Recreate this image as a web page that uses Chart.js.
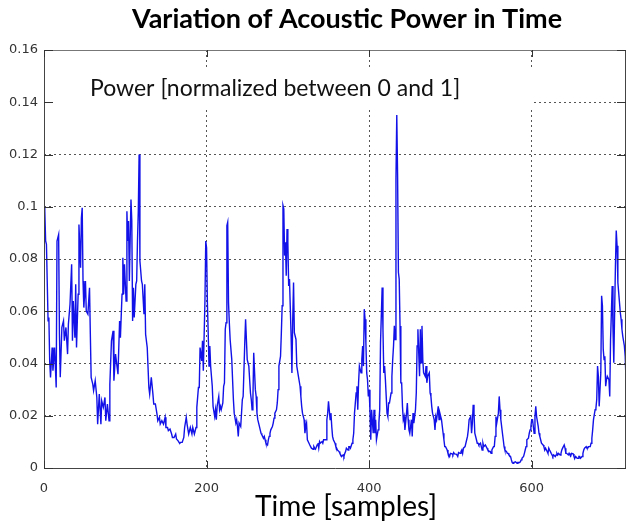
<!DOCTYPE html>
<html>
<head>
<meta charset="utf-8">
<script src="https://cdn.jsdelivr.net/npm/chart.js@4.4.1/dist/chart.umd.min.js"></script>
<style>
  html, body { margin: 0; padding: 0; background: #fff; }
  #wrap { width: 626px; height: 526px; }
</style>
</head>
<body>
<div id="wrap"><canvas id="chart" width="626" height="526"></canvas></div>
<script>
const chartTitle = "Variation of Acoustic Power in Time";
const xLabel = "Time [samples]";
const note = "Power [normalized between 0 and 1]";

const xTicks = [0, 200, 400, 600];
const yTicks = [0, 0.02, 0.04, 0.06, 0.08, 0.1, 0.12, 0.14, 0.16];

// sample index (x) and normalized power (y)
const samples = [
  0, 1, 2, 3, 5, 6, 7, 8, 10, 11, 13, 15, 16, 18, 19, 20, 22, 24, 25, 27,
  29, 30, 32, 34, 35, 36, 38, 39, 40, 42, 43, 45, 46, 47, 48, 49, 51, 52, 54, 56,
  57, 58, 60, 61, 63, 65, 66, 68, 70, 71, 73, 75, 76, 78, 80, 81, 83, 85, 86, 88,
  89, 91, 93, 94, 96, 97, 98, 99, 101, 102, 103, 104, 105, 107, 108, 109, 110, 111, 113, 114,
  115, 116, 117, 118, 120, 121, 123, 124, 125, 127, 129, 130, 132, 134, 135, 137, 139, 140, 142, 143,
  145, 147, 149, 150, 152, 153, 155, 157, 158, 160, 162, 163, 165, 167, 168, 170, 172, 173, 175, 176,
  178, 180, 182, 183, 185, 187, 188, 190, 191, 192, 194, 195, 196, 198, 199, 200, 201, 202, 203, 204,
  205, 206, 207, 208, 210, 211, 212, 213, 215, 216, 217, 218, 220, 221, 222, 223, 224, 225, 226, 227,
  228, 229, 231, 232, 233, 234, 236, 237, 238, 239, 240, 242, 243, 244, 245, 247, 248, 249, 250, 252,
  253, 254, 255, 256, 257, 258, 260, 261, 262, 263, 265, 266, 267, 268, 270, 271, 272, 273, 275, 276,
  277, 278, 279, 281, 282, 283, 284, 286, 287, 288, 289, 291, 292, 293, 294, 295, 296, 297, 298, 299,
  300, 301, 302, 304, 305, 306, 307, 308, 310, 311, 313, 315, 316, 317, 318, 320, 321, 322, 323, 324,
  326, 327, 328, 329, 331, 332, 333, 334, 336, 337, 338, 339, 340, 342, 343, 344, 345, 347, 348, 349,
  350, 352, 353, 354, 355, 356, 358, 359, 360, 361, 363, 364, 365, 366, 368, 369, 370, 371, 372, 374,
  375, 376, 377, 379, 380, 381, 382, 384, 385, 386, 387, 388, 390, 391, 392, 393, 394, 395, 396, 397,
  398, 399, 400, 401, 402, 403, 405, 406, 407, 408, 409, 411, 412, 413, 414, 416, 417, 418, 419, 420,
  422, 423, 424, 425, 427, 428, 429, 430, 431, 432, 433, 434, 435, 436, 437, 438, 439, 440, 441, 442,
  443, 444, 446, 447, 448, 449, 450, 452, 453, 454, 455, 457, 458, 459, 460, 462, 463, 464, 465, 466,
  467, 469, 470, 471, 472, 474, 475, 476, 477, 478, 480, 481, 482, 483, 485, 486, 487, 488, 489, 491,
  492, 493, 494, 496, 497, 498, 499, 500, 502, 503, 504, 505, 507, 508, 509, 510, 512, 513, 514, 515,
  516, 518, 519, 520, 521, 522, 523, 525, 526, 527, 528, 529, 530, 532, 533, 534, 535, 537, 538, 539,
  540, 541, 543, 544, 545, 546, 548, 549, 550, 551, 553, 554, 555, 556, 557, 559, 560, 561, 562, 564,
  565, 566, 567, 569, 570, 571, 572, 574, 575, 576, 577, 578, 580, 581, 582, 583, 585, 586, 587, 588,
  590, 591, 592, 593, 594, 596, 597, 598, 599, 600, 601, 603, 604, 605, 606, 608, 609, 610, 611, 612,
  614, 615, 616, 617, 619, 620, 621, 622, 624, 625, 626, 627, 629, 630, 631, 632, 633, 635, 636, 637,
  638, 640, 641, 642, 643, 645, 646, 647, 648, 649, 651, 652, 653, 654, 656, 657, 658, 659, 660, 662,
  663, 664, 665, 667, 668, 669, 670, 672, 673, 674, 675, 676, 678, 679, 680, 681, 682, 683, 685, 686,
  687, 688, 689, 690, 691, 692, 693, 695, 696, 697, 699, 700, 701, 702, 703, 704, 705, 706, 708, 709,
  710, 711, 712, 714, 715, 716
];

const power = [
  0.1000, 0.0983, 0.0869, 0.0856, 0.0563, 0.0576, 0.0410, 0.0347, 0.0461, 0.0372, 0.0461, 0.0308, 0.0869, 0.0894, 0.0512, 0.0347, 0.0538, 0.0563, 0.0487, 0.0538,
  0.0436, 0.0550, 0.0627, 0.0780, 0.0487, 0.0639, 0.0499, 0.0703, 0.0461, 0.0665, 0.0932, 0.0767, 0.0958, 0.0996, 0.0716, 0.0614, 0.0716, 0.0601, 0.0589, 0.0690,
  0.0512, 0.0347, 0.0321, 0.0296, 0.0334, 0.0270, 0.0168, 0.0283, 0.0168, 0.0257, 0.0232, 0.0270, 0.0181, 0.0245, 0.0181, 0.0321, 0.0487, 0.0525, 0.0334, 0.0436,
  0.0410, 0.0359, 0.0563, 0.0499, 0.0665, 0.0805, 0.0665, 0.0780, 0.0639, 0.0983, 0.0869, 0.0945, 0.0716, 0.1028, 0.0945, 0.0563, 0.0690, 0.0576, 0.0703, 0.0716,
  0.0869, 0.0983, 0.1200, 0.0792, 0.0716, 0.0703, 0.0589, 0.0703, 0.0512, 0.0461, 0.0308, 0.0283, 0.0347, 0.0283, 0.0245, 0.0245, 0.0206, 0.0181, 0.0194, 0.0168,
  0.0181, 0.0168, 0.0194, 0.0155, 0.0155, 0.0143, 0.0149, 0.0130, 0.0117, 0.0117, 0.0130, 0.0111, 0.0104, 0.0094, 0.0098, 0.0098, 0.0117, 0.0155, 0.0194, 0.0168,
  0.0130, 0.0155, 0.0130, 0.0155, 0.0130, 0.0155, 0.0232, 0.0308, 0.0308, 0.0461, 0.0410, 0.0487, 0.0372, 0.0639, 0.0869, 0.0843, 0.0633, 0.0518, 0.0390, 0.0467,
  0.0390, 0.0351, 0.0313, 0.0236, 0.0197, 0.0223, 0.0185, 0.0236, 0.0274, 0.0223, 0.0236, 0.0223, 0.0249, 0.0313, 0.0326, 0.0531, 0.0556, 0.0928, 0.0941, 0.0633,
  0.0556, 0.0492, 0.0415, 0.0338, 0.0262, 0.0210, 0.0172, 0.0185, 0.0159, 0.0121, 0.0172, 0.0159, 0.0210, 0.0262, 0.0274, 0.0479, 0.0569, 0.0492, 0.0415, 0.0390,
  0.0338, 0.0287, 0.0262, 0.0223, 0.0262, 0.0441, 0.0300, 0.0274, 0.0210, 0.0185, 0.0159, 0.0146, 0.0133, 0.0127, 0.0114, 0.0121, 0.0108, 0.0095, 0.0088, 0.0108,
  0.0121, 0.0133, 0.0146, 0.0159, 0.0172, 0.0191, 0.0210, 0.0223, 0.0249, 0.0300, 0.0390, 0.0428, 0.0518, 0.0621, 0.1005, 0.0992, 0.0813, 0.0864, 0.0736, 0.0915,
  0.0864, 0.0697, 0.0723, 0.0505, 0.0364, 0.0569, 0.0710, 0.0518, 0.0492, 0.0390, 0.0351, 0.0313, 0.0274, 0.0236, 0.0210, 0.0185, 0.0133, 0.0159, 0.0172, 0.0108,
  0.0095, 0.0088, 0.0082, 0.0076, 0.0072, 0.0082, 0.0076, 0.0072, 0.0088, 0.0095, 0.0076, 0.0101, 0.0095, 0.0101, 0.0095, 0.0108, 0.0108, 0.0108, 0.0185, 0.0210,
  0.0255, 0.0185, 0.0210, 0.0159, 0.0121, 0.0108, 0.0095, 0.0082, 0.0076, 0.0069, 0.0063, 0.0056, 0.0050, 0.0044, 0.0050, 0.0044, 0.0056, 0.0063, 0.0076, 0.0069,
  0.0082, 0.0082, 0.0076, 0.0095, 0.0108, 0.0133, 0.0210, 0.0287, 0.0313, 0.0223, 0.0326, 0.0390, 0.0364, 0.0415, 0.0467, 0.0390, 0.0608, 0.0569, 0.0479, 0.0364,
  0.0338, 0.0274, 0.0300, 0.0220, 0.0108, 0.0223, 0.0133, 0.0223, 0.0133, 0.0185, 0.0108, 0.0146, 0.0172, 0.0223, 0.0479, 0.0691, 0.0531, 0.0364, 0.0390, 0.0338,
  0.0210, 0.0197, 0.0249, 0.0249, 0.0287, 0.0351, 0.0415, 0.0467, 0.0544, 0.0492, 0.1108, 0.1351, 0.1121, 0.0749, 0.0723, 0.0544, 0.0326, 0.0326, 0.0236, 0.0185,
  0.0197, 0.0146, 0.0210, 0.0249, 0.0185, 0.0146, 0.0133, 0.0185, 0.0121, 0.0210, 0.0172, 0.0223, 0.0287, 0.0467, 0.0531, 0.0351, 0.0531, 0.0403, 0.0544, 0.0415,
  0.0364, 0.0351, 0.0390, 0.0326, 0.0351, 0.0364, 0.0287, 0.0274, 0.0236, 0.0210, 0.0185, 0.0146, 0.0197, 0.0185, 0.0236, 0.0185, 0.0210, 0.0197, 0.0185, 0.0133,
  0.0108, 0.0082, 0.0082, 0.0069, 0.0056, 0.0050, 0.0044, 0.0056, 0.0054, 0.0050, 0.0059, 0.0054, 0.0053, 0.0050, 0.0044, 0.0059, 0.0056, 0.0063, 0.0069, 0.0056,
  0.0076, 0.0082, 0.0082, 0.0108, 0.0121, 0.0146, 0.0185, 0.0197, 0.0133, 0.0172, 0.0242, 0.0210, 0.0133, 0.0108, 0.0095, 0.0095, 0.0088, 0.0095, 0.0082, 0.0069,
  0.0095, 0.0082, 0.0088, 0.0082, 0.0076, 0.0069, 0.0063, 0.0063, 0.0056, 0.0069, 0.0082, 0.0082, 0.0121, 0.0197, 0.0172, 0.0210, 0.0274, 0.0223, 0.0185, 0.0133,
  0.0108, 0.0082, 0.0069, 0.0063, 0.0056, 0.0056, 0.0050, 0.0044, 0.0031, 0.0021, 0.0018, 0.0021, 0.0024, 0.0021, 0.0018, 0.0021, 0.0021, 0.0024, 0.0031, 0.0037,
  0.0044, 0.0056, 0.0069, 0.0082, 0.0108, 0.0114, 0.0133, 0.0146, 0.0159, 0.0185, 0.0185, 0.0133, 0.0197, 0.0236, 0.0197, 0.0159, 0.0133, 0.0121, 0.0108, 0.0095,
  0.0088, 0.0082, 0.0069, 0.0076, 0.0063, 0.0056, 0.0076, 0.0069, 0.0056, 0.0050, 0.0044, 0.0050, 0.0044, 0.0050, 0.0056, 0.0050, 0.0056, 0.0050, 0.0056, 0.0069,
  0.0076, 0.0088, 0.0076, 0.0056, 0.0056, 0.0050, 0.0056, 0.0050, 0.0046, 0.0056, 0.0054, 0.0044, 0.0037, 0.0044, 0.0037, 0.0037, 0.0044, 0.0044, 0.0037, 0.0044,
  0.0056, 0.0069, 0.0076, 0.0082, 0.0076, 0.0076, 0.0082, 0.0082, 0.0095, 0.0114, 0.0146, 0.0185, 0.0223, 0.0229, 0.0262, 0.0390, 0.0351, 0.0236, 0.0364, 0.0659,
  0.0621, 0.0454, 0.0415, 0.0428, 0.0313, 0.0338, 0.0351, 0.0338, 0.0274, 0.0492, 0.0697, 0.0531, 0.0403, 0.0595, 0.0774, 0.0909, 0.0851, 0.0710, 0.0633, 0.0595,
  0.0569, 0.0531, 0.0505, 0.0467, 0.0428, 0.0338
];

const points = samples.map((s, i) => ({ x: s, y: power[i] }));

// matlab-ish frame: white label box, axis box, inward ticks, texts
const frame = {
  id: "frame",
  beforeDatasetsDraw(chart) {
    const { ctx, chartArea: a, scales: { x, y } } = chart;
    const top = y.getPixelForValue(0.1527);
    const bottom = y.getPixelForValue(0.1377);
    const right = x.getPixelForValue(600) + 2;
    ctx.save();
    ctx.fillStyle = "#fff";
    ctx.fillRect(a.left + 1, top, right - a.left - 1, bottom - top);
    ctx.fillStyle = "#111";
    ctx.font = "23px Lato";
    ctx.textBaseline = "middle";
    ctx.textAlign = "left";
    ctx.fillText(note, a.left + 46, (top + bottom) / 2);
    ctx.restore();
  },
  afterDraw(chart) {
    const { ctx, chartArea: a, scales: { x, y } } = chart;
    ctx.save();
    ctx.lineWidth = 1;
    ctx.strokeStyle = "#444";
    ctx.beginPath();
    ctx.moveTo(a.left + 0.5, a.top);
    ctx.lineTo(a.left + 0.5, a.bottom + 0.5);
    ctx.lineTo(a.right, a.bottom + 0.5);
    ctx.moveTo(a.right - 0.5, a.top);
    ctx.lineTo(a.right - 0.5, a.bottom);
    ctx.stroke();
    ctx.strokeStyle = "#777";
    ctx.beginPath();
    ctx.moveTo(a.left, a.top + 0.5);
    ctx.lineTo(a.right, a.top + 0.5);
    ctx.stroke();

    ctx.strokeStyle = "#333";
    ctx.beginPath();
    yTicks.forEach(v => {
      const py = Math.round(y.getPixelForValue(v)) + 0.5;
      ctx.moveTo(a.left, py); ctx.lineTo(a.left + 9, py);
      ctx.moveTo(a.right, py); ctx.lineTo(a.right - 9, py);
    });
    xTicks.forEach(v => {
      const px = Math.round(x.getPixelForValue(v)) + 0.5;
      ctx.moveTo(px, a.bottom); ctx.lineTo(px, a.bottom - 7);
      ctx.moveTo(px, a.top); ctx.lineTo(px, a.top + 7);
    });
    ctx.stroke();

    ctx.fillStyle = "#000";
    ctx.textAlign = "center";
    ctx.textBaseline = "middle";
    ctx.font = "bold 27px Lato";
    ctx.fillText(chartTitle, 347, 19);
    ctx.font = "28px Lato";
    ctx.fillText(xLabel, 346, 507);
    ctx.restore();
  }
};

const gridColor = (edge) => (c) => (c.tick && (c.tick.value === 0 || c.tick.value === edge)) ? "rgba(0,0,0,0)" : "#555";

new Chart(document.getElementById("chart"), {
  type: "line",
  data: {
    datasets: [{
      data: points,
      borderColor: "#1212e8",
      borderWidth: 1.4,
      pointRadius: 0,
      tension: 0,
      fill: false
    }]
  },
  options: {
    responsive: false,
    animation: false,
    devicePixelRatio: 1,
    layout: { padding: { top: 50, left: 0, right: 0, bottom: 0 } },
    plugins: {
      legend: { display: false },
      tooltip: { enabled: false },
      title: { display: false }
    },
    scales: {
      x: {
        type: "linear",
        min: 0,
        max: 716,
        afterBuildTicks: (s) => { s.ticks = xTicks.map(v => ({ value: v })); },
        afterFit: (s) => { s.height = 58; },
        ticks: {
          padding: 13,
          color: "#333",
          font: { family: "DejaVu Sans", size: 13 },
          maxRotation: 0
        },
        grid: { drawTicks: false, lineWidth: 1, color: gridColor(-1) },
        border: { display: false, dash: [2, 3] }
      },
      y: {
        min: 0,
        max: 0.16,
        afterBuildTicks: (s) => { s.ticks = yTicks.map(v => ({ value: v })); },
        afterFit: (s) => { s.width = 44; },
        ticks: {
          padding: 6,
          color: "#333",
          font: { family: "DejaVu Sans", size: 13 },
          callback: (v) => String(Number(v.toFixed(2)))
        },
        grid: { drawTicks: false, lineWidth: 1, color: gridColor(0.16) },
        border: { display: false, dash: [2, 3] }
      }
    }
  },
  plugins: [frame]
});
</script>
</body>
</html>
